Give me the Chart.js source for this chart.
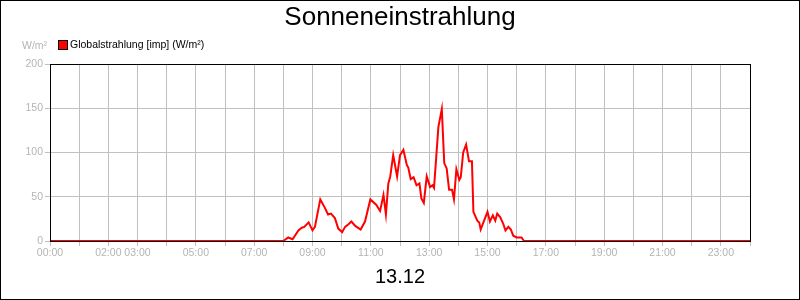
<!DOCTYPE html>
<html>
<head>
<meta charset="utf-8">
<script src="https://cdn.jsdelivr.net/npm/chart.js@4/dist/chart.umd.min.js"></script>
<style>
  body { margin: 0; background: #fff; }
  canvas { display: block; }
</style>
</head>
<body>
<canvas id="sunChart" width="800" height="300"></canvas>
<script>
// Chart data
const chartTitle = 'Sonneneinstrahlung';
const dateLabel = '13.12';
const unitLabel = 'W/m²';
const seriesLabel = 'Globalstrahlung [imp] (W/m²)';

const times = [
    '00:00', '08:00', '08:10', '08:19', '08:31', '08:38', '08:43', '08:52', '09:00', '09:05',
    '09:16', '09:25', '09:32', '09:38', '09:46', '09:53', '10:01', '10:07', '10:14', '10:20',
    '10:28', '10:39', '10:48', '10:59', '11:11', '11:19', '11:26', '11:31', '11:36', '11:40',
    '11:46', '11:54', '12:00', '12:07', '12:14', '12:17', '12:22', '12:28', '12:34', '12:40',
    '12:44', '12:49', '12:55', '13:02', '13:07', '13:10', '13:19', '13:26', '13:31', '13:36',
    '13:41', '13:47', '13:51', '13:56', '14:02', '14:05', '14:10', '14:16', '14:22', '14:28',
    '14:31', '14:39', '14:43', '14:46', '14:53', '15:00', '15:05', '15:11', '15:16', '15:20',
    '15:26', '15:32', '15:37', '15:43', '15:48', '15:53', '16:00', '16:10', '16:15', '24:00'
];
const radiation = [
    0, 0, 4, 2, 12, 15, 16, 21, 12, 16,
    47, 38, 30, 31, 26, 14, 10, 16, 19, 22,
    17, 13, 22, 47, 41, 34, 52, 30, 65, 73,
    97, 73, 97, 103, 86, 83, 70, 72, 63, 65,
    48, 43, 73, 61, 63, 60, 129, 149, 88, 82,
    58, 58, 47, 81, 69, 72, 100, 109, 90, 90,
    33, 23, 21, 13, 23, 33, 22, 29, 23, 31,
    27, 20, 12, 16, 13, 6, 4, 4, 0, 0
];
const xTickLabels = ['00:00', '02:00', '03:00', '05:00', '07:00', '09:00', '11:00',
    '13:00', '15:00', '17:00', '19:00', '21:00', '23:00'];
const yTicks = [0, 50, 100, 150, 200];

const gridColor = '#c0c0c0';
const labelColor = '#b4b4b4';
const fontFamily = 'Arial, "Liberation Sans", sans-serif';

function toMinutes(t) {
    const [h, m] = t.split(':').map(Number);
    return h * 60 + m;
}

function formatTime(min) {
    const h = Math.floor(min / 60);
    return String(h).padStart(2, '0') + ':00';
}

const points = times.map((t, i) => ({ x: toMinutes(t), y: radiation[i] }));

// Extra texts, legend, frame
const decorPlugin = {
    id: 'decor',
    afterDraw(chart) {
        const ctx = chart.ctx;
        const area = chart.chartArea;
        ctx.save();

        ctx.strokeStyle = '#000';
        ctx.lineWidth = 1;
        ctx.strokeRect(area.left + 0.5, area.top + 0.5, area.right - area.left, area.bottom - area.top);
        ctx.strokeRect(0.5, 0.5, chart.width - 1, chart.height - 1);

        ctx.fillStyle = '#000';
        ctx.textAlign = 'center';
        ctx.textBaseline = 'middle';
        ctx.font = '26px ' + fontFamily;
        ctx.fillText(chartTitle, 400, 18);
        ctx.font = '20px ' + fontFamily;
        ctx.fillText(dateLabel, 400, 277);

        ctx.fillStyle = labelColor;
        ctx.font = '10.5px ' + fontFamily;
        ctx.textAlign = 'left';
        ctx.fillText(unitLabel, 22, 46);

        // legend
        ctx.fillStyle = '#ff0000';
        ctx.fillRect(58.5, 40.5, 9, 9);
        ctx.strokeStyle = '#000';
        ctx.strokeRect(58.5, 40.5, 9, 9);
        ctx.fillStyle = '#000';
        ctx.fillText(seriesLabel, 70, 45);

        ctx.restore();
    }
};

new Chart(document.getElementById('sunChart'), {
    type: 'line',
    data: {
        datasets: [{
            label: seriesLabel,
            data: points,
            borderColor: '#ff0000',
            borderWidth: 2,
            pointRadius: 0,
            tension: 0,
            fill: false
        }]
    },
    options: {
        responsive: false,
        animation: false,
        layout: { padding: { left: 0, top: 64, right: 50, bottom: 0 } },
        plugins: {
            legend: { display: false },
            tooltip: { enabled: false }
        },
        scales: {
            x: {
                type: 'linear',
                min: 0,
                max: 1440,
                afterFit: s => { s.height = 59; },
                afterBuildTicks: s => {
                    s.ticks = [];
                    for (let m = 0; m <= 1440; m += 60) s.ticks.push({ value: m });
                },
                grid: { color: gridColor, tickLength: 5, tickColor: gridColor },
                border: { color: '#000' },
                ticks: {
                    autoSkip: false,
                    maxRotation: 0,
                    padding: 1,
                    color: labelColor,
                    font: { family: fontFamily, size: 10.5 },
                    callback: v => {
                        const lbl = formatTime(v);
                        return (v < 1440 && xTickLabels.includes(lbl)) ? lbl : '';
                    }
                }
            },
            y: {
                min: 0,
                max: 200,
                afterFit: s => { s.width = 50; },
                afterBuildTicks: s => { s.ticks = yTicks.map(v => ({ value: v })); },
                grid: { color: gridColor, tickLength: 5, tickColor: gridColor },
                border: { color: '#000' },
                ticks: {
                    padding: 2,
                    color: labelColor,
                    font: { family: fontFamily, size: 10.5 }
                }
            }
        }
    },
    plugins: [decorPlugin]
});
</script>
</body>
</html>
